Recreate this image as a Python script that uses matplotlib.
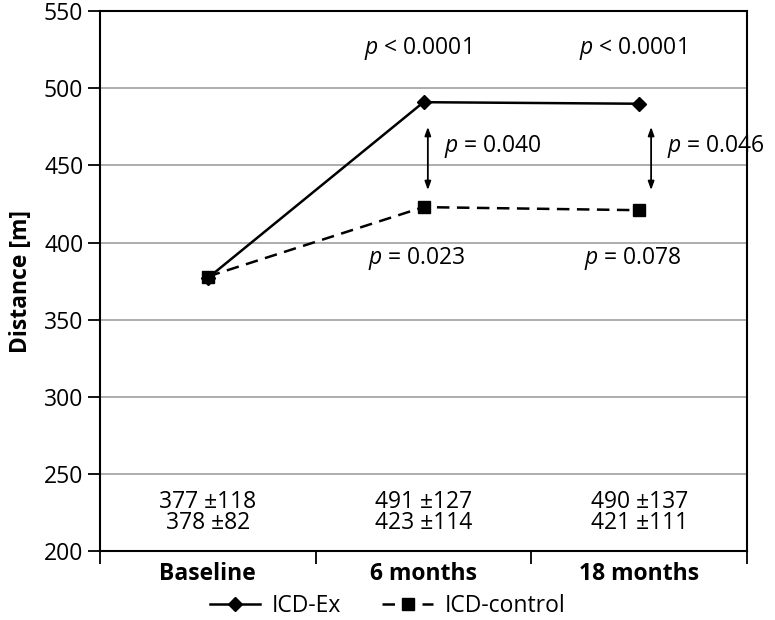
import matplotlib
matplotlib.use("Agg")
import matplotlib.pyplot as plt

plt.rcParams['font.family'] = ['Open Sans', 'DejaVu Sans']
plt.rcParams['mathtext.fontset'] = 'custom'
plt.rcParams['mathtext.it'] = 'Open Sans:italic'
plt.rcParams['mathtext.rm'] = 'Open Sans'

categories = ['Baseline', '6 months', '18 months']
icd_ex = [377, 491, 490]
icd_ex_sd = [118, 127, 137]
icd_ctrl = [378, 423, 421]
icd_ctrl_sd = [82, 114, 111]
p_within_ex = ['< 0.0001', '< 0.0001']
p_between = ['= 0.040', '= 0.046']
p_within_ctrl = ['= 0.023', '= 0.078']

fs = 16.5
x = list(range(len(categories)))

fig = plt.figure(figsize=(7.75, 6.2), dpi=100)
ax = fig.add_axes([0.129, 0.111, 0.835, 0.871])

ax.plot(x, icd_ex, color='black', lw=1.8, marker='D', ms=7, label='ICD-Ex')
ax.plot(x, icd_ctrl, color='black', lw=1.8, ls=(0, (5, 3)), marker='s', ms=8,
        label='ICD-control')

ax.set_xlim(-0.5, 2.5)
ax.set_ylim(200, 550)
ax.set_yticks(range(200, 551, 50))
ax.yaxis.grid(True, color='#a0a0a0', lw=1.2)
ax.set_axisbelow(True)
ax.set_xticks(x)
ax.set_xticklabels(categories, fontweight='bold', fontsize=fs)
ax.tick_params(axis='x', which='major', length=0, pad=8)
ax.set_xticks([-0.5, 0.5, 1.5, 2.5], minor=True)
ax.tick_params(axis='x', which='minor', length=9, width=1.3, direction='out')
ax.tick_params(axis='y', length=9, width=1.3, labelsize=fs, pad=3)
for s in ax.spines.values():
    s.set_linewidth(1.5)
ax.set_ylabel('Distance [m]', fontweight='bold', fontsize=fs, labelpad=8)

# p-values within ICD-Ex (top)
for i, p in enumerate(p_within_ex):
    ax.text(x[i + 1] - 0.03, 526, '$p$ ' + p, ha='center', va='center', fontsize=fs)

# arrows and p between groups
arrow_dx = [0.02, 0.055]
for i, p in enumerate(p_between):
    xi = x[i + 1] + arrow_dx[i]
    ax.annotate('', xy=(xi, 475), xytext=(xi, 434),
                arrowprops=dict(arrowstyle='<|-|>,head_length=0.5,head_width=0.18',
                                color='black', lw=1.3, shrinkA=0, shrinkB=0))
    ax.text(xi + 0.075, 462, '$p$ ' + p, ha='left', va='center', fontsize=fs)

# p-values within control
for i, p in enumerate(p_within_ctrl):
    ax.text(x[i + 1] - 0.03, 390, '$p$ ' + p, ha='center', va='center', fontsize=fs)

# mean +- SD rows
for i in x:
    ax.text(i, 232, '%d \u00b1%d' % (icd_ex[i], icd_ex_sd[i]), ha='center',
            va='center', fontsize=fs)
    ax.text(i, 218, '%d \u00b1%d' % (icd_ctrl[i], icd_ctrl_sd[i]), ha='center',
            va='center', fontsize=fs)

fig.legend(loc='center', bbox_to_anchor=(0.5, 0.022), ncol=2, frameon=False,
           fontsize=fs, handlelength=2.2, columnspacing=1.8, handletextpad=0.5,
           borderpad=0.1)

fig.savefig('out.png', dpi=100)
